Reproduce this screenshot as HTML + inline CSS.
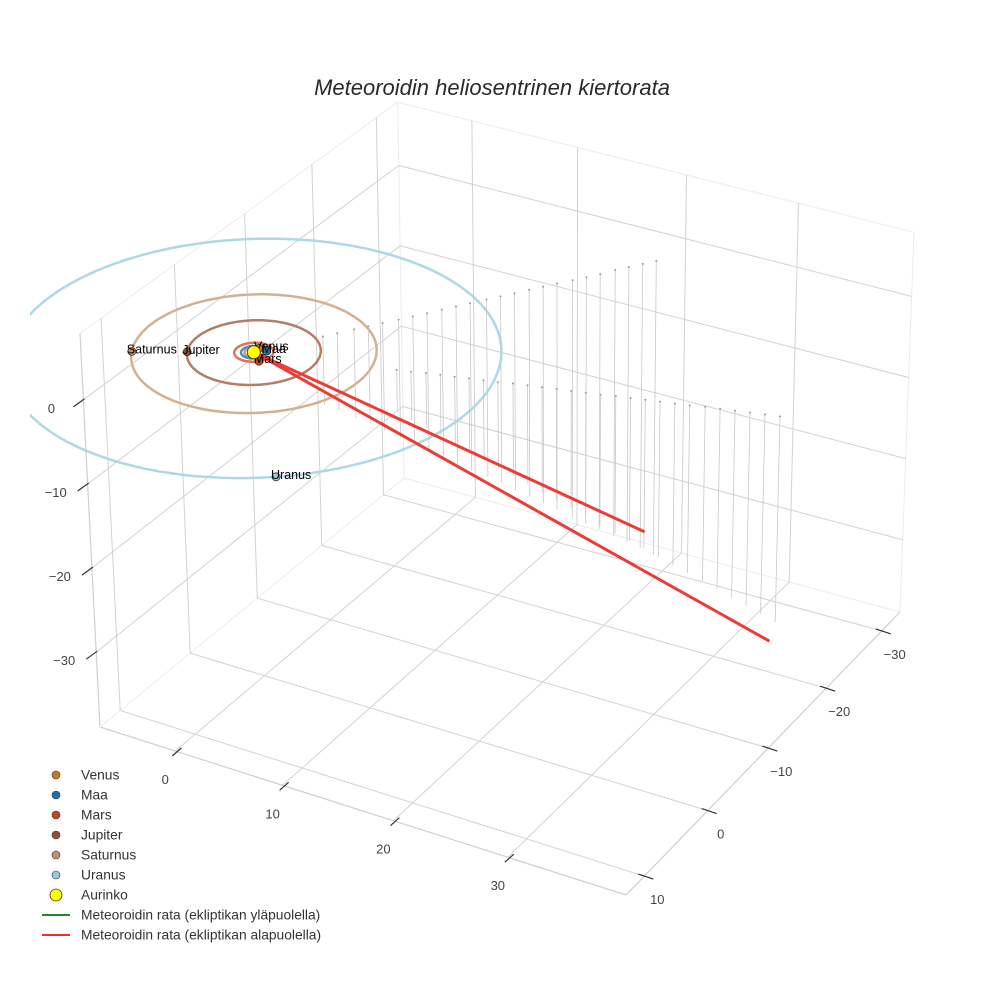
<!DOCTYPE html>
<html><head><meta charset="utf-8"><style>
html,body{margin:0;padding:0;background:#fff;}
svg{display:block;font-family:"Liberation Sans",sans-serif;}
</style></head><body>
<svg id="chart" width="984" height="984" viewBox="0 0 984 984">
<defs><clipPath id="sceneclip"><rect x="30" y="0" width="954" height="984"/></clipPath></defs>
<text x="492" y="95" text-anchor="middle" font-size="22" font-style="italic" fill="#2a2a2a">Meteoroidin heliosentrinen kiertorata</text>
<g id="grid"></g>
<g id="ticks"></g>
<g id="orbits" clip-path="url(#sceneclip)"></g>
<g id="drops"></g>
<g id="traj"></g>
<g id="planets"></g>
<g id="legend"></g>
</svg>
<script>
// ---- data ----
const planetNames = ["Venus","Maa","Mars","Jupiter","Saturnus","Uranus"];
const orbitRadii = [0.723, 1.0, 1.524, 5.203, 9.537, 19.19];
const planetAngles = [-90, -40, 42, 151, 151, 52];
const planetColors = ["#c47a14","#1f6fb4","#c9441a","#98502c","#c0916a","#8ecbdc"];
const orbitColors = ["#d6a06a","#4a8fc7","#e07355","#b67c66","#d3b18f","#add8e6"];
const xTicks = [0,10,20,30];
const yTicks = [-30,-20,-10,0,10];
const zTicks = [0,-10,-20,-30];
const traj1X = [0, 19.4], traj1Y = [0, -28.0], traj1Z = [0, -33];
const traj2X = [0, 39.4], traj2Y = [0, -11.0], traj2Z = [0, -27];
const drop1X = [3.3,4.0,4.8,5.5,6.2,7.0,7.7,8.4,9.1,9.8,10.5,11.3,12.0,12.7,13.4,14.1,14.8,15.6,16.3,17.0,17.7,18.4,19.1,19.8];
const drop1Y = [-4.8,-5.8,-7.0,-8.0,-9.0,-10.1,-11.1,-12.1,-13.2,-14.2,-15.2,-16.4,-17.4,-18.4,-19.5,-20.5,-21.5,-22.6,-23.6,-24.6,-25.8,-26.8,-27.8,-28.8];
const drop1Z = [-8.2,-9.3,-10.7,-11.8,-13.0,-14.3,-15.5,-16.7,-18.0,-19.2,-20.3,-21.7,-22.8,-24.0,-25.3,-26.5,-27.7,-29.0,-30.2,-31.3,-32.7,-33.8,-35.0,-36.2];
const drop2X = [11.1,12.2,13.3,14.4,15.5,16.6,17.7,18.8,19.9,21.0,22.1,23.2,24.3,25.4,26.5,27.6,28.7,29.8,30.9,32.0,33.1,34.2,35.3,36.4,37.5,38.6,39.7];
const drop2Y = [-3.1,-3.4,-3.8,-4.1,-4.4,-4.7,-5.0,-5.3,-5.7,-6.0,-6.3,-6.6,-6.9,-7.2,-7.5,-7.9,-8.2,-8.5,-8.8,-9.1,-9.4,-9.8,-10.1,-10.4,-10.7,-11.0,-11.3];
const drop2Z = [-5.0,-5.8,-6.6,-7.3,-8.1,-8.9,-9.6,-10.4,-11.1,-11.9,-12.7,-13.4,-14.1,-14.9,-15.7,-16.5,-17.2,-17.9,-18.7,-19.5,-20.2,-21.0,-21.7,-22.5,-23.3,-24.0,-24.8];

// ---- scene / projection ----
const XMIN=-7.2, XMAX=40, YMIN=-33.4, YMAX=12.8, ZMIN=-38.9, ZMAX=7.9;
const cD=[404,478], cC=[900,612], cB=[626,895], cA=[100,727];
const hD=376, hC=380, hA=394, hB=398;
const VP=[561,9808];
const dx1=cC[0]-cB[0], dx2=cA[0]-cB[0], dx3=cD[0]-cC[0]+cB[0]-cA[0];
const dy1=cC[1]-cB[1], dy2=cA[1]-cB[1], dy3=cD[1]-cC[1]+cB[1]-cA[1];
const den=dx1*dy2-dx2*dy1;
const G=(dx3*dy2-dx2*dy3)/den, H=(dx1*dy3-dx3*dy1)/den;
const Ah=cC[0]-cD[0]+G*cC[0], Bh=cA[0]-cD[0]+H*cA[0], Ch=cD[0];
const Dh=cC[1]-cD[1]+G*cC[1], Eh=cA[1]-cD[1]+H*cA[1], Fh=cD[1];
function proj(x,y,z){
  const u=(x-XMIN)/(XMAX-XMIN), v=(y-YMIN)/(YMAX-YMIN), t=(z-ZMIN)/(ZMAX-ZMIN);
  const W=G*u+H*v+1;
  const fx=(Ah*u+Bh*v+Ch)/W, fy=(Dh*u+Eh*v+Fh)/W;
  const inv=(1-u)*(1-v)/hD+u*(1-v)/hC+(1-u)*v/hA+u*v/hB;
  const h=1/inv;
  let ddx=fx-VP[0], ddy=fy-VP[1]; const L=Math.hypot(ddx,ddy); ddx/=L; ddy/=L;
  return [fx+ddx*t*h, fy+ddy*t*h];
}
const NS="http://www.w3.org/2000/svg";
function mk(tag,attrs,parent){const e=document.createElementNS(NS,tag);for(const k in attrs)e.setAttribute(k,attrs[k]);parent.appendChild(e);return e;}
function seg(p,q,stroke,w,parent,name){
  const e=mk('line',{x1:p[0].toFixed(1),y1:p[1].toFixed(1),x2:q[0].toFixed(1),y2:q[1].toFixed(1),stroke:stroke,'stroke-width':w},parent);
  
  
  return e;
}
const grid=document.getElementById('grid');
const GC="#d2d2d2", EC="#ececec";
const bA=proj(XMIN,YMAX,ZMIN), bB=proj(XMAX,YMAX,ZMIN), bC=proj(XMAX,YMIN,ZMIN), bD=proj(XMIN,YMIN,ZMIN);
const tA=proj(XMIN,YMAX,ZMAX), tC=proj(XMAX,YMIN,ZMAX), tD=proj(XMIN,YMIN,ZMAX);
seg(bA,bB,"#cfcfcf",1.2,grid,'x-axis-line');
seg(bB,bC,"#cfcfcf",1.2,grid,'y-axis-line');
seg(bA,tA,"#cfcfcf",1.2,grid,'z-axis-line');
seg(bC,bD,EC,1,grid,'box-edge');
seg(bD,bA,EC,1,grid,'box-edge');
seg(bD,tD,EC,1,grid,'box-edge');
seg(bC,tC,EC,1,grid,'box-edge');
seg(tA,tD,EC,1,grid,'box-edge');
seg(tD,tC,EC,1,grid,'box-edge');
xTicks.forEach(x=>{
  seg(proj(x,YMIN,ZMIN),proj(x,YMAX,ZMIN),GC,1,grid,'floor-x-gridline');
  seg(proj(x,YMIN,ZMIN),proj(x,YMIN,ZMAX),GC,1,grid,'back-x-gridline');
});
yTicks.forEach(y=>{
  seg(proj(XMIN,y,ZMIN),proj(XMAX,y,ZMIN),GC,1,grid,'floor-y-gridline');
  seg(proj(XMIN,y,ZMIN),proj(XMIN,y,ZMAX),GC,1,grid,'left-y-gridline');
});
zTicks.forEach(z=>{
  seg(proj(XMIN,YMIN,z),proj(XMIN,YMAX,z),GC,1,grid,'left-z-gridline');
  seg(proj(XMIN,YMIN,z),proj(XMAX,YMIN,z),GC,1,grid,'back-z-gridline');
});
const ticks=document.getElementById('ticks');
function lbl(p,txt,name){
  const t=mk('text',{x:p[0].toFixed(1),y:p[1].toFixed(1),'text-anchor':'middle','font-size':'13',fill:'#444'},ticks);
  t.textContent=txt;
  
  
}
const fmt=v=>v<0?'\u2212'+Math.abs(v):String(v);
xTicks.forEach(x=>{
  const p=proj(x,YMAX,ZMIN);
  seg([p[0]-3,p[1]+5],[p[0]+6,p[1]-3],"#333",1.2,ticks,'x-tick');
  lbl([p[0]-10,p[1]+33],fmt(x),'x-tick-label');
});
yTicks.forEach(y=>{
  const p=proj(XMAX,y,ZMIN);
  seg([p[0]-6,p[1]-2],[p[0]+9,p[1]+3],"#333",1.2,ticks,'y-tick');
  lbl([p[0]+13,p[1]+28],fmt(y),'y-tick-label');
});
zTicks.forEach(z=>{
  const p=proj(XMIN,YMAX,z);
  seg([p[0]-10,p[1]+7],[p[0]+1,p[1]-1],"#333",1.2,ticks,'z-tick');
  lbl([p[0]-32,p[1]+13],fmt(z),'z-tick-label');
});
const orb=document.getElementById('orbits');
orbitRadii.forEach((r,i)=>{
  let d='';
  for(let k=0;k<=180;k++){const a=k/180*2*Math.PI;const p=proj(r*Math.cos(a),r*Math.sin(a),0);d+=(k?'L':'M')+p[0].toFixed(1)+' '+p[1].toFixed(1);}
  const e=mk('path',{d:d,fill:'none',stroke:orbitColors[i],'stroke-width':2.5},orb);
  
  
});
const drops=document.getElementById('drops');
function dropSet(X,Y,Z,name){
  X.forEach((x,i)=>{
    const top=proj(x,Y[i],0), bot=proj(x,Y[i],Z[i]);
    seg(top,bot,"#c8c8c8",0.8,drops,name);
    const c=mk('circle',{cx:top[0].toFixed(1),cy:top[1].toFixed(1),r:1,fill:'#999'},drops);
    
    
  });
}
dropSet(drop1X,drop1Y,drop1Z,'drop-line-a');
dropSet(drop2X,drop2Y,drop2Z,'drop-line-b');
const traj=document.getElementById('traj');
function path(X,Y,Z,name){
  let d='';X.forEach((x,i)=>{const p=proj(x,Y[i],Z[i]);d+=(i?'L':'M')+p[0].toFixed(1)+' '+p[1].toFixed(1);});
  const e=mk('path',{d:d,fill:'none',stroke:'#ec3c35','stroke-width':3},traj);
  
  
}
path(traj1X,traj1Y,traj1Z,'trajectory-segment-1');
path(traj2X,traj2Y,traj2Z,'trajectory-segment-2');
const pl=document.getElementById('planets');
orbitRadii.forEach((r,i)=>{
  const a=planetAngles[i]*Math.PI/180;
  const p=proj(r*Math.cos(a),r*Math.sin(a),0);
  const c=mk('circle',{cx:p[0].toFixed(1),cy:p[1].toFixed(1),r:4,fill:planetColors[i],stroke:'#333','stroke-width':0.8},pl);
  
  
  const t=mk('text',{x:(p[0]-5).toFixed(1),y:(p[1]+2).toFixed(1),'font-size':'12.5',fill:'#000'},pl);
  t.textContent=planetNames[i];
  
  
});
const sp=proj(0,0,0);
const sun=mk('circle',{cx:sp[0].toFixed(1),cy:sp[1].toFixed(1),r:6.5,fill:'#ffff00',stroke:'#333','stroke-width':0.8},pl);


const lg=document.getElementById('legend');
const legNames=planetNames.concat(["Aurinko","Meteoroidin rata (ekliptikan yläpuolella)","Meteoroidin rata (ekliptikan alapuolella)"]);
legNames.forEach((n,i)=>{
  const y=775+i*20;
  let m;
  if(i<6){m=mk('circle',{cx:56,cy:y,r:4,fill:planetColors[i],stroke:'#333','stroke-width':0.6},lg);}
  else if(i===6){m=mk('circle',{cx:56,cy:y,r:6,fill:'#ffff00',stroke:'#333','stroke-width':0.8},lg);}
  else {m=mk('line',{x1:42,y1:y,x2:70,y2:y,stroke:i===7?'#1f8a1f':'#e8312f','stroke-width':2},lg);}
  
  
  const t=mk('text',{x:81,y:y+4.5,'font-size':'13.8',fill:'#333'},lg);
  t.textContent=n;
  
  
});
</script>
</body></html>
